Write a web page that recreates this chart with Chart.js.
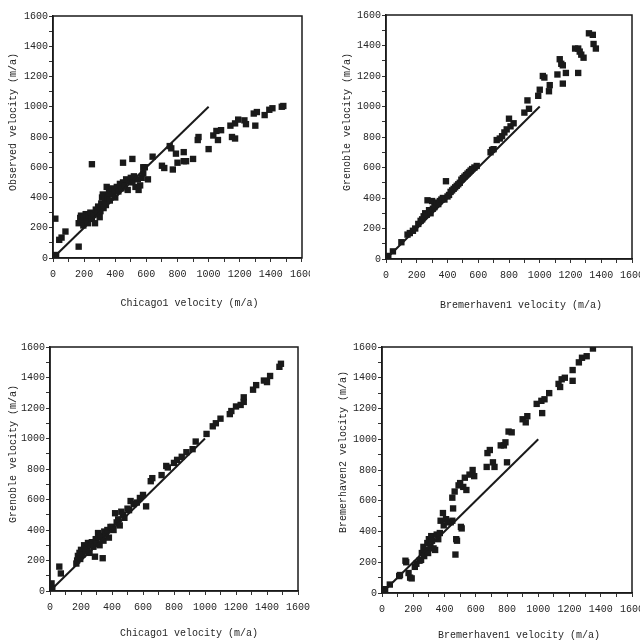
<!DOCTYPE html>
<html>
<head>
<meta charset="utf-8">
<script src="https://cdn.jsdelivr.net/npm/chart.js@4/dist/chart.umd.min.js"></script>
<style>
  body { margin: 0; background: #fff; width: 640px; height: 642px; position: relative; overflow: hidden; }
  .panel { position: absolute; overflow: hidden; }
  .panel canvas { position: absolute; left: 0; top: 0; }
</style>
</head>
<body>
<div class="panel" id="w1"><canvas id="c1"></canvas></div>
<div class="panel" id="w2"><canvas id="c2"></canvas></div>
<div class="panel" id="w3"><canvas id="c3"></canvas></div>
<div class="panel" id="w4"><canvas id="c4"></canvas></div>
<script>
// axis ticks (m/a)
var axisMin = 0, axisMax = 1600, minorStep = 100, labelStep = 200;
// 1:1 reference line
var oneToOne = [[0, 0], [1000, 1000]];

// top left: Chicago1 vs observed
var chicagoObserved = [
  [15,260],[40,120],[55,135],[80,175],[165,75],[250,620],[450,630],[510,655],[640,670],[750,740],[760,725],
  [20,20],[165,230],[175,265],[180,280],[190,245],[195,215],[200,270],[210,290],[215,250],[225,230],
  [230,280],[240,300],[250,260],[260,285],[270,230],[275,320],[285,300],[290,340],[300,270],[305,310],
  [310,360],[315,400],[320,420],[325,330],[335,380],[340,350],[345,470],[350,400],[360,430],[365,380],
  [375,460],[385,420],[395,450],[400,400],[410,470],[420,440],[430,490],[440,460],[450,500],[460,480],
  [470,520],[480,450],[490,510],[500,530],[510,500],[520,540],[530,470],[545,520],[550,450],[560,480],
  [570,530],[580,560],[590,600],[610,520],[580,600],
  [700,610],[715,595],[770,585],[790,690],[800,630],[840,700],[840,640],[855,640],[900,655],[930,780],
  [935,800],[1000,720],[1030,810],[1050,840],[1060,780],[1080,845],[1140,875],[1150,800],[1170,790],
  [1170,890],[1190,915],[1230,910],[1240,885],[1290,955],[1310,965],[1300,875],[1360,945],[1390,980],
  [1410,990],[1470,1000],[1480,1005]
];

// top right: Bremerhaven1 vs Grenoble
var bremGrenoble = [
  [5,10],[15,20],[45,50],[100,110],[140,160],[155,170],[175,185],[190,200],[210,230],[225,250],[235,260],
  [245,280],[255,300],[265,290],[270,385],[280,320],[290,300],[300,380],[305,330],[315,340],[330,370],
  [340,360],[350,380],[360,390],[370,400],[380,390],[390,510],[400,410],[410,420],[420,440],[430,450],
  [440,460],[450,470],[460,480],[470,490],[480,500],[490,520],[500,530],[510,540],[520,550],[530,560],
  [540,570],[550,580],[560,590],[575,600],[590,610],[680,700],[690,715],[700,720],[720,780],[740,790],
  [755,805],[770,830],[785,850],[800,920],[810,870],[830,890],[900,960],[920,1040],[930,985],[990,1070],
  [1000,1110],[1020,1200],[1030,1190],[1060,1100],[1065,1140],[1115,1210],[1130,1310],[1140,1280],
  [1150,1270],[1150,1150],[1170,1220],[1230,1380],[1250,1380],[1260,1360],[1250,1220],[1270,1340],
  [1285,1320],[1320,1480],[1345,1470],[1350,1410],[1365,1380]
];

// bottom left: Chicago1 vs Grenoble
var chicagoGrenoble = [
  [10,50],[15,20],[60,160],[70,115],[170,180],[175,200],[180,230],[190,250],[195,210],[200,270],[210,240],
  [220,300],[230,260],[240,280],[245,315],[255,250],[260,300],[270,320],[280,290],[290,225],[295,340],
  [300,310],[310,380],[315,350],[320,300],[330,360],[340,215],[345,330],[350,390],[360,370],[370,400],
  [380,350],[390,420],[400,420],[410,400],[420,510],[430,450],[440,470],[450,430],[460,520],[470,500],
  [480,480],[500,540],[510,530],[520,590],[540,570],[560,580],[580,610],[600,630],[620,555],[650,720],
  [660,740],[720,760],[750,820],[760,810],[800,840],[820,860],[850,880],[880,910],[920,930],[940,980],
  [1010,1030],[1050,1080],[1070,1100],[1100,1130],[1160,1160],[1170,1180],[1200,1210],[1230,1220],
  [1250,1240],[1250,1270],[1310,1320],[1330,1350],[1380,1380],[1400,1370],[1420,1410],[1480,1470],[1490,1490]
];

// bottom right: Bremerhaven1 vs Bremerhaven2
var bremBrem2 = [
  [5,5],[20,25],[50,55],[110,110],[115,117],[150,210],[155,200],[170,130],[180,100],[190,95],[210,170],
  [220,190],[240,210],[250,215],[255,260],[265,300],[270,240],[280,280],[290,325],[295,260],[300,350],
  [310,300],[315,370],[320,340],[330,290],[340,280],[350,380],[360,350],[370,390],[375,470],[390,520],
  [395,440],[410,480],[420,460],[440,460],[450,470],[455,550],[450,620],[465,660],[470,250],[475,350],
  [480,340],[490,700],[500,715],[505,430],[510,420],[520,690],[530,750],[540,670],[560,770],[580,800],
  [590,760],[670,820],[675,910],[690,930],[710,850],[720,820],[760,960],[780,960],[790,980],[800,850],
  [810,1050],[830,1045],[900,1130],[920,1110],[930,1150],[990,1230],[1025,1170],[1020,1250],[1040,1260],
  [1070,1300],[1130,1360],[1140,1340],[1150,1390],[1170,1400],[1220,1380],[1220,1450],[1260,1500],
  [1280,1530],[1310,1540],[1350,1590]
];

var mono = '"Liberation Mono", "DejaVu Sans Mono", monospace';
var ink = '#1a1a1a';
var textInk = '#262626';

// draws the box round the plot
var framePlugin = {
  id: 'frame',
  afterDraw: function (chart) {
    var a = chart.chartArea, ctx = chart.ctx;
    ctx.save();
    ctx.strokeStyle = ink;
    ctx.lineWidth = 1.5;
    ctx.strokeRect(a.left, a.top, a.right - a.left, a.bottom - a.top);
    ctx.restore();
  }
};

function toXY(pairs) {
  return pairs.map(function (p) { return { x: p[0], y: p[1] }; });
}

// the original titles sit a little off the axis centre
function shifted(text, n) {
  return ' '.repeat(n) + text;
}

function axis(title, shift, titlePad, fitSize, horizontal) {
  return {
    type: 'linear',
    min: axisMin,
    max: axisMax,
    afterFit: function (s) { if (horizontal) s.height = fitSize; else s.width = fitSize; },
    ticks: {
      stepSize: minorStep,
      autoSkip: false,
      maxRotation: 0,
      padding: horizontal ? 6 : 1,
      color: textInk,
      font: { family: mono, size: 10 },
      callback: function (v) { return v % labelStep === 0 ? String(v) : ''; }
    },
    grid: { drawOnChartArea: false, tickLength: 4, color: '#333', lineWidth: 1 },
    border: { display: true, color: ink, width: 1.5 },
    title: {
      display: true,
      text: shifted(title, shift),
      color: textInk,
      font: { family: mono, size: 10 },
      padding: horizontal ? { top: 0, bottom: titlePad } : { top: titlePad, bottom: 0 }
    }
  };
}

// p: wrapper box, canvas size, padding and axis sizes
function makePanel(n, pairs, xTitle, yTitle, p) {
  var w = document.getElementById('w' + n);
  w.style.left = p.left + 'px'; w.style.top = p.top + 'px';
  w.style.width = p.clipW + 'px'; w.style.height = p.h + 'px';
  var c = document.getElementById('c' + n);
  c.width = p.w; c.height = p.h;
  c.style.width = p.w + 'px'; c.style.height = p.h + 'px';
  new Chart(c, {
    type: 'scatter',
    data: {
      datasets: [{
        data: toXY(oneToOne),
        showLine: true,
        borderColor: ink,
        borderWidth: 2,
        pointRadius: 0
      }, {
        data: toXY(pairs),
        pointStyle: 'rect',
        pointRadius: 4.5,
        backgroundColor: ink,
        borderColor: ink,
        borderWidth: 0
      }]
    },
    options: {
      responsive: false,
      animation: false,
      layout: { padding: { left: 0, top: p.padTop, right: p.padRight, bottom: 0 } },
      plugins: { legend: { display: false }, tooltip: { enabled: false } },
      scales: {
        x: axis(xTitle, p.xShift, p.xTitlePad, p.xH, true),
        y: axis(yTitle, p.yShift, p.yTitlePad, p.yW, false)
      }
    },
    plugins: [framePlugin]
  });
}

makePanel(1, chicagoObserved, 'Chicago1 velocity (m/a)', 'Observed velocity (m/a)',
  { left: 0, top: 0, w: 320, h: 320, clipW: 310, padTop: 16, padRight: 17, yW: 53, xH: 62,
    xTitlePad: 11, yTitlePad: 7, xShift: 4, yShift: 5 });
makePanel(2, bremGrenoble, 'Bremerhaven1 velocity (m/a)', 'Grenoble velocity (m/a)',
  { left: 320, top: 0, w: 340, h: 320, clipW: 320, padTop: 15, padRight: 28, yW: 66, xH: 61,
    xTitlePad: 9, yTitlePad: 21, xShift: 4, yShift: 5 });
makePanel(3, chicagoGrenoble, 'Chicago1 velocity (m/a)', 'Grenoble velocity (m/a)',
  { left: 0, top: 321, w: 320, h: 321, clipW: 310, padTop: 26, padRight: 22, yW: 50, xH: 51,
    xTitlePad: 3, yTitlePad: 7, xShift: 5, yShift: 5 });
makePanel(4, bremBrem2, 'Bremerhaven1 velocity (m/a)', 'Bremerhaven2 velocity (m/a)',
  { left: 320, top: 321, w: 340, h: 321, clipW: 320, padTop: 26, padRight: 28, yW: 62, xH: 49,
    xTitlePad: 1, yTitlePad: 17, xShift: 4, yShift: 6 });
</script>
</body>
</html>
